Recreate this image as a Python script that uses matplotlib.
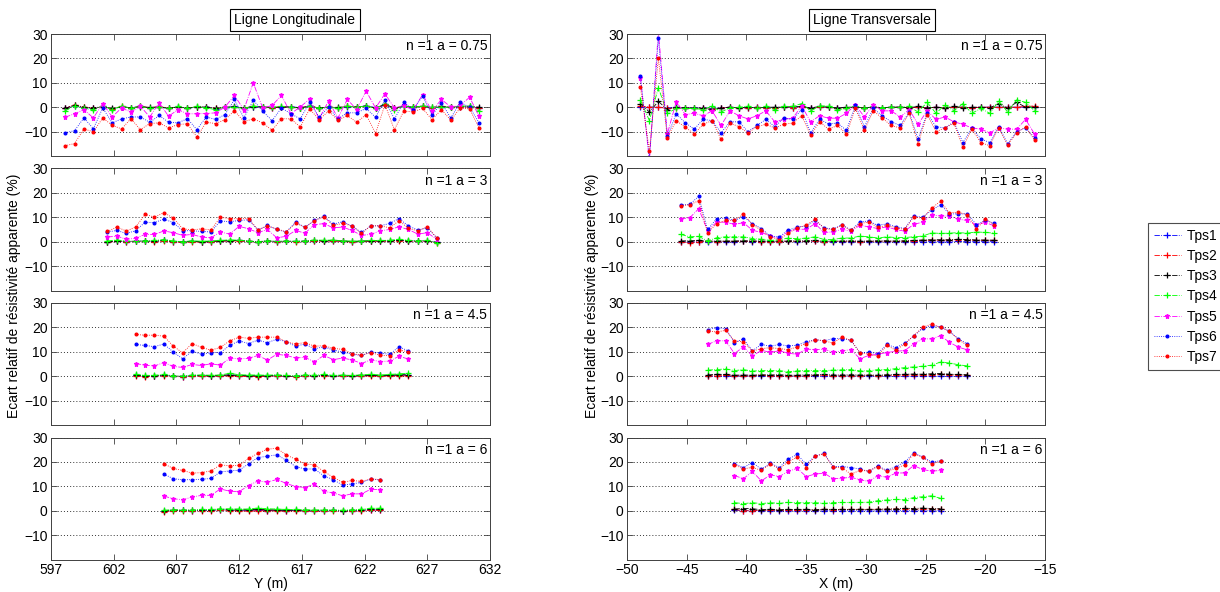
import numpy as np
import matplotlib
matplotlib.use('Agg')
import matplotlib.pyplot as plt

plt.rcParams['font.family'] = ['Liberation Sans', 'DejaVu Sans']

# ---------------- metadata ----------------
series_names = ['Tps1', 'Tps2', 'Tps3', 'Tps4', 'Tps5', 'Tps6', 'Tps7']
panel_labels = ['n =1 a = 0.75', 'n =1 a = 3', 'n =1 a = 4.5', 'n =1 a = 6']
long_start = [598.125, 601.5, 603.75, 606.0]     # first measurement position (Y, m)
trans_start = [-48.875, -45.5, -43.25, -41.0]    # first measurement position (X, m)
step = 0.75
long_ticks = [597, 602, 607, 612, 617, 622, 627, 632]
trans_ticks = [-50, -45, -40, -35, -30, -25, -20, -15]
y_ticks = [-10, 0, 10, 20, 30]

# ---------------- Ligne Longitudinale, a = 0.75 ----------------
L1_T1 = [-0.3, 0.5, -0.2, -0.5, 0.3, -0.8, 0.2, -0.2, 0.3, -0.3, 0.0, -0.4, 0.2, -0.5, 0.0, 0.2, -0.6, 0.0, 0.3, -0.4, 0.2, 0.0, -0.3, 0.1, 0.2, -0.2, 0.4, -0.4, 0.0, -0.3, 0.2, 0.0, 0.6, -0.2, 0.8, -0.5, 0.3, 0.0, 0.4, -0.2, 0.2, 0.0, 0.2, 0.1, -0.3]
L1_T2 = [-0.5, 1.0, 0.0, -0.3, 0.2, -0.6, 0.3, -0.3, 0.3, -0.2, 0.2, -0.3, 0.0, -0.4, 0.2, 0.0, -0.5, 0.1, 0.0, -0.3, 0.3, 0.1, -0.2, 0.2, 0.0, -0.3, 0.5, -0.3, 0.1, -0.2, 0.3, 0.1, 0.3, -0.3, 1.0, -0.4, 0.3, 0.0, 0.3, -0.2, 0.3, 0.0, 0.2, 0.2, -0.5]
L1_T3 = [-0.5, 0.8, 0.0, -0.3, 0.2, -0.5, 0.1, -0.3, 0.2, -0.1, 0.1, -0.4, 0.1, -0.3, 0.1, 0.1, -0.4, 0.0, 0.2, -0.2, 0.2, 0.1, -0.1, 0.1, 0.0, -0.2, 0.3, -0.2, 0.0, -0.1, 0.3, 0.1, 0.5, -0.3, 1.2, -0.3, 0.4, 0.0, 0.3, -0.1, 0.2, 0.1, 0.3, 0.4, 0.0]
L1_T4 = [-1.5, 0.5, -0.5, -1.0, 0.5, -1.0, 0.5, -0.5, 0.3, -0.5, 0.0, -0.5, 0.3, -0.5, 0.3, -0.3, -1.0, 0.0, 0.0, -0.5, 0.5, 0.0, 0.0, 0.3, 0.0, -0.5, 0.3, -0.3, 0.0, -0.5, 0.5, 0.0, 0.5, -0.5, 1.5, -1.0, 0.5, 0.0, 0.5, 0.0, 0.0, 0.0, 0.5, 0.5, -1.5]
L1_T5 = [-4.1, -2.7, -1.0, -4.4, 1.5, -4.0, -0.3, -2.0, 0.4, -4.0, 1.8, -3.7, -1.0, -2.7, -2.7, -2.6, -2.3, 0.1, 4.8, -1.0, 10.0, -0.3, 0.7, 4.8, -2.6, 0.1, 3.4, -4.7, 2.5, -4.4, 3.2, -1.0, 6.6, -0.3, 5.5, -0.3, 0.7, -1.2, 5.2, -1.6, 3.2, 0.1, 0.7, 4.1, -3.7]
L1_T6 = [-10.5, -9.6, -4.4, -8.8, -0.3, -6.4, -4.8, -4.0, -4.0, -6.2, -3.4, -6.2, -6.4, -4.7, -9.2, -4.0, -5.0, -3.0, 3.2, -4.4, 2.9, -1.6, -5.5, -0.3, -2.7, -4.8, 2.0, -4.1, 0.0, -4.8, -2.3, -2.3, -0.5, -4.1, 2.9, -4.8, 2.0, -1.0, 4.5, -3.3, 1.8, -4.4, 2.0, 0.0, -6.4]
L1_T7 = [-15.8, -14.9, -8.9, -10.1, -4.4, -7.4, -8.9, -4.7, -9.2, -6.7, -6.4, -8.5, -7.1, -6.8, -12.2, -6.2, -6.7, -5.1, -1.4, -5.9, -4.8, -6.4, -9.5, -4.7, -4.8, -8.1, -0.7, -5.1, -1.6, -5.3, -3.4, -6.2, -3.0, -10.8, 1.1, -9.2, -1.6, -1.9, -0.5, -5.1, -1.0, -5.3, -0.3, -0.7, -8.5]

# ---------------- Ligne Longitudinale, a = 3 ----------------
L2_T1 = [-0.2, 0.3, 0.0, 0.2, 0.3, 0.1, 0.5, 0.0, -0.2, 0.2, -0.1, 0.0, 0.3, 0.4, 0.5, 0.2, -0.1, 0.3, 0.0, 0.2, 0.1, 0.2, 0.4, 0.3, 0.4, 0.2, 0.0, 0.2, 0.3, 0.3, 0.3, 0.6, 0.3, 0.2, 0.3, -0.3]
L2_T2 = [-0.3, 0.2, 0.0, 0.1, 0.2, -0.2, 0.3, -0.1, -0.3, 0.0, -0.2, 0.0, 0.2, 0.3, 0.3, 0.1, -0.2, 0.2, 0.0, 0.1, 0.0, 0.1, 0.3, 0.2, 0.3, 0.1, -0.1, 0.1, 0.2, 0.2, 0.2, 0.4, 0.1, 0.1, 0.2, -0.4]
L2_T3 = [0.0, 0.3, 0.1, 0.2, 0.3, 0.2, 0.6, 0.1, 0.0, 0.2, 0.0, 0.1, 0.4, 0.4, 0.5, 0.2, 0.0, 0.3, 0.1, 0.2, 0.1, 0.2, 0.5, 0.4, 0.5, 0.3, 0.1, 0.2, 0.4, 0.4, 0.4, 0.7, 0.4, 0.3, 0.4, -0.3]
L2_T4 = [0.3, 0.7, 0.2, 0.3, 0.4, 0.5, 0.9, 0.3, 0.0, 0.4, 0.2, 0.3, 0.5, 0.8, 0.6, 0.3, 0.0, 0.4, 0.2, 0.3, 0.2, 0.3, 0.7, 0.6, 0.7, 0.4, 0.2, 0.3, 0.5, 0.5, 0.6, 1.0, 0.6, 0.4, 0.5, -0.5]
L2_T5 = [1.9, 2.3, 1.0, 1.4, 3.0, 3.0, 4.4, 3.7, 2.6, 3.0, 1.9, 1.6, 4.0, 3.1, 6.3, 5.3, 3.7, 5.0, 1.6, 2.2, 4.6, 3.5, 7.0, 7.4, 5.7, 6.0, 4.6, 2.6, 3.0, 4.5, 5.0, 6.1, 5.0, 3.1, 3.7, 1.0]
L2_T6 = [4.0, 4.6, 3.4, 4.5, 8.0, 7.8, 9.3, 7.8, 4.5, 4.5, 4.2, 4.0, 8.5, 8.2, 8.7, 9.0, 4.8, 6.7, 5.0, 4.0, 8.0, 5.9, 8.7, 10.4, 7.2, 8.2, 6.4, 3.8, 6.5, 6.5, 7.5, 9.5, 6.4, 4.8, 5.7, 1.6]
L2_T7 = [4.2, 6.0, 4.4, 6.0, 11.2, 10.1, 11.9, 9.7, 5.3, 4.8, 5.3, 4.8, 10.0, 9.5, 9.4, 9.5, 4.9, 6.4, 5.3, 4.0, 7.5, 6.0, 8.6, 10.2, 6.7, 7.5, 6.5, 3.4, 6.5, 6.5, 5.7, 8.6, 5.5, 4.4, 6.1, 1.6]

# ---------------- Ligne Longitudinale, a = 4.5 ----------------
L3_T1 = [0.3, 0.0, 0.1, 0.3, 0.0, -0.2, 0.2, 0.2, 0.1, 0.2, 0.5, 0.2, 0.1, 0.0, 0.1, 0.2, 0.0, -0.1, 0.2, 0.1, 0.3, 0.0, 0.2, 0.1, 0.2, 0.3, 0.2, 0.3, 0.4, 0.5]
L3_T2 = [0.1, -0.2, 0.0, 0.2, -0.1, -0.3, 0.1, 0.0, 0.0, 0.1, 0.2, 0.0, -0.1, -0.2, 0.0, 0.1, -0.1, -0.2, 0.0, 0.0, 0.1, -0.1, 0.1, 0.0, 0.1, 0.1, 0.0, 0.1, 0.2, 0.1]
L3_T3 = [0.4, 0.1, 0.2, 0.4, 0.1, 0.0, 0.3, 0.3, 0.2, 0.3, 0.6, 0.3, 0.2, 0.2, 0.2, 0.3, 0.1, 0.0, 0.3, 0.2, 0.4, 0.1, 0.3, 0.2, 0.4, 0.4, 0.3, 0.4, 0.6, 0.6]
L3_T4 = [0.8, 0.3, 0.4, 0.7, 0.2, 0.0, 0.5, 0.5, 0.4, 0.5, 1.2, 0.6, 0.5, 0.5, 0.4, 0.6, 0.3, 0.2, 0.6, 0.4, 0.8, 0.3, 0.5, 0.3, 0.6, 0.8, 0.5, 0.7, 1.0, 1.2]
L3_T5 = [5.2, 4.5, 4.2, 5.6, 4.0, 3.6, 4.8, 4.4, 5.1, 4.5, 7.4, 7.1, 7.3, 8.5, 6.6, 9.0, 8.5, 7.5, 7.7, 5.9, 8.5, 6.8, 7.4, 6.7, 5.2, 6.7, 6.0, 6.2, 8.2, 7.0]
L3_T6 = [13.0, 12.6, 12.1, 13.2, 9.9, 7.1, 10.3, 9.0, 9.7, 9.7, 12.6, 14.5, 13.4, 14.8, 13.7, 15.2, 14.1, 12.3, 13.2, 11.2, 12.1, 10.7, 9.9, 9.0, 8.5, 9.9, 9.6, 8.9, 12.1, 10.3]
L3_T7 = [17.1, 16.8, 16.8, 16.4, 12.3, 9.6, 13.4, 11.8, 10.7, 11.8, 14.5, 16.0, 15.5, 16.0, 16.0, 16.0, 14.1, 13.2, 13.8, 12.3, 12.5, 11.4, 11.0, 9.3, 8.6, 9.7, 8.6, 8.4, 10.7, 10.0]

# ---------------- Ligne Longitudinale, a = 6 ----------------
L4_T1 = [-0.3, 0.1, 0.1, 0.0, 0.2, 0.1, 0.3, 0.2, 0.1, 0.1, 0.3, 0.0, 0.1, 0.0, 0.1, 0.0, -0.1, 0.0, 0.1, -0.2, -0.1, 0.1, 0.3, 0.2]
L4_T2 = [-0.6, 0.0, 0.0, -0.2, 0.0, -0.1, 0.1, 0.0, 0.0, -0.2, 0.0, -0.1, 0.0, -0.2, 0.0, -0.1, -0.3, -0.2, 0.0, -0.3, -0.2, 0.0, 0.2, 0.1]
L4_T3 = [0.0, 0.3, 0.2, 0.2, 0.3, 0.3, 0.5, 0.4, 0.4, 0.4, 0.6, 0.4, 0.3, 0.2, 0.2, 0.2, 0.1, 0.2, 0.2, 0.0, 0.2, 0.3, 0.5, 0.6]
L4_T4 = [0.2, 0.4, 0.3, 0.3, 0.5, 0.5, 0.8, 0.8, 0.7, 0.7, 1.1, 0.8, 0.7, 0.5, 0.5, 0.4, 0.3, 0.4, 0.3, 0.2, 0.4, 0.6, 1.0, 1.0]
L4_T5 = [6.0, 4.9, 4.5, 5.6, 6.3, 6.3, 8.9, 8.0, 7.8, 10.3, 12.2, 11.7, 12.8, 11.2, 9.9, 9.5, 10.9, 7.9, 7.3, 6.1, 6.9, 6.9, 8.8, 8.6]
L4_T6 = [15.0, 13.1, 12.7, 12.7, 12.9, 13.2, 15.9, 16.3, 16.6, 19.2, 21.8, 22.3, 22.9, 20.7, 18.1, 17.1, 17.1, 14.3, 12.7, 10.5, 11.0, 11.6, 12.9, 12.6]
L4_T7 = [19.2, 17.3, 16.5, 15.4, 15.6, 16.3, 18.8, 18.4, 18.6, 21.4, 23.5, 25.2, 25.6, 22.9, 21.1, 19.2, 18.8, 16.1, 13.7, 11.6, 12.4, 12.0, 13.1, 12.7]

# ---------------- Ligne Transversale, a = 0.75 ----------------
T1_T1 = [0.0, 0.0, 0.0, -0.3, 0.0, -0.2, -0.3, -0.2, -0.5, -0.2, 0.0, -0.3, -0.2, 0.0, -0.3, -0.2, 0.0, -0.2, 0.0, -0.3, 0.0, 0.0, -0.3, -0.2, 0.0, -0.2, 0.0, -0.2, 0.0, 0.0, -0.2, 0.0, -0.2, 0.0, -0.3, 0.0, 0.0, -0.2, 0.0, 0.0, 0.0, 0.0, 0.0, 0.0, 0.0]
T1_T2 = [0.5, 0.0, 0.0, -0.5, -0.3, -0.3, -0.5, -0.3, -0.8, -0.3, 0.0, -0.5, -0.3, 0.0, -0.5, -0.3, 0.0, -0.3, 0.0, -0.5, 0.0, 0.0, -0.5, -0.3, 0.0, -0.3, 0.0, -0.3, 0.0, 0.0, -0.3, 0.0, -0.3, 0.0, -0.3, 0.0, 0.0, -0.3, 0.0, 0.0, 0.0, 0.0, 0.0, 0.3, 0.5]
T1_T3 = [1.5, -2.0, 2.4, -1.0, 0.0, -0.2, -0.3, -0.5, -1.0, -0.3, 0.0, -0.2, 0.0, -0.3, 0.0, 0.0, 0.0, 0.3, 0.3, -0.3, 0.3, 0.0, -0.3, 0.0, 0.0, -0.2, 0.0, -0.2, 0.0, 0.0, -0.2, 0.3, -0.3, 0.0, -0.3, 0.3, -0.3, 0.0, 0.0, -0.3, 1.5, -0.5, 2.0, 0.0, 0.0]
T1_T4 = [3.0, -5.5, 8.0, -2.5, -0.5, -0.5, -0.5, -1.0, 0.5, -2.0, -0.2, 0.0, 0.3, -0.5, 0.3, -1.0, 0.3, 0.3, 1.5, -1.5, 0.5, 0.5, -1.0, -0.5, 0.5, -0.5, 0.3, -0.2, 0.0, 0.0, 0.3, -2.0, 2.0, -2.5, 1.0, -1.5, 1.5, -2.5, -0.5, -2.5, 2.5, -2.0, 3.0, 2.0, -1.5]
T1_T5 = [12.0, -22.0, 31.0, -11.0, 2.3, -3.0, -2.5, -3.5, -1.5, -7.5, -1.5, -3.5, -4.8, -3.5, -1.5, -6.0, -5.0, -4.5, 0.5, -6.0, -3.5, -4.5, -4.5, -2.5, 1.0, -4.0, 1.0, -1.5, -1.5, -4.0, -1.0, -7.0, -1.5, -5.0, -4.0, -6.0, -7.0, -8.5, -9.0, -10.5, -8.5, -9.0, -9.0, -5.0, -11.0]
T1_T6 = [12.7, -21.0, 28.2, -12.0, -2.7, -6.4, -9.0, -5.0, -5.5, -10.5, -6.0, -6.0, -10.0, -7.5, -5.0, -8.0, -4.5, -5.0, -1.0, -10.5, -5.0, -6.8, -6.5, -9.5, 0.8, -8.0, -0.5, -3.5, -6.0, -7.5, -2.0, -13.0, -2.5, -8.0, -8.5, -6.0, -14.5, -8.5, -13.0, -14.5, -8.0, -15.0, -10.0, -8.5, -12.5]
T1_T7 = [8.2, -18.0, 20.0, -12.5, -5.5, -8.2, -11.0, -7.0, -5.5, -13.2, -6.5, -8.0, -10.5, -8.0, -7.0, -8.5, -7.0, -6.5, -3.5, -11.5, -6.0, -9.0, -7.5, -11.0, -0.5, -9.5, -1.5, -4.5, -7.5, -8.5, -2.5, -15.0, -3.0, -10.0, -8.5, -6.5, -16.5, -9.0, -14.5, -15.8, -8.5, -15.5, -10.5, -8.0, -13.5]

# ---------------- Ligne Transversale, a = 3 ----------------
T2_T1 = [0.0, -0.2, 0.0, 0.0, 0.0, 0.0, 0.0, 0.1, 0.0, 0.0, 0.0, 0.0, 0.1, 0.0, 0.1, 0.2, 0.0, 0.0, 0.0, 0.0, 0.0, 0.0, 0.0, 0.0, 0.0, 0.0, 0.0, 0.0, 0.0, 0.0, 0.0, 0.1, 0.0, 0.0, 0.0, 0.0]
T2_T2 = [0.0, -0.4, 0.0, 0.1, 0.0, 0.1, 0.1, 0.2, 0.1, 0.0, 0.0, 0.0, 0.2, 0.1, 0.2, 0.3, 0.0, 0.1, 0.1, 0.1, 0.0, 0.1, 0.1, 0.2, 0.1, 0.2, 0.3, 0.5, 0.6, 0.6, 0.7, 0.9, 0.8, 0.5, 0.6, 0.5]
T2_T3 = [0.3, 0.4, 0.5, 0.2, 0.3, 0.3, 0.3, 0.4, 0.3, 0.3, 0.2, 0.2, 0.4, 0.3, 0.4, 0.5, 0.2, 0.3, 0.3, 0.4, 0.2, 0.3, 0.4, 0.4, 0.3, 0.4, 0.5, 0.7, 0.8, 0.8, 0.8, 1.0, 0.9, 0.7, 0.7, 0.6]
T2_T4 = [3.0, 2.0, 2.2, 0.3, 1.6, 2.0, 2.0, 2.0, 1.3, 1.0, 0.5, 0.8, 1.5, 1.2, 1.5, 2.0, 0.9, 0.9, 1.5, 1.5, 2.3, 2.0, 1.5, 2.0, 1.7, 1.7, 2.0, 2.3, 3.6, 3.4, 3.5, 3.7, 3.5, 4.0, 3.8, 3.5]
T2_T5 = [9.4, 9.8, 13.5, 4.5, 8.0, 8.0, 7.1, 7.8, 4.7, 3.8, 2.3, 1.3, 4.3, 5.1, 5.1, 7.4, 3.8, 4.0, 5.1, 4.3, 6.7, 6.1, 5.4, 6.1, 5.0, 4.3, 7.1, 8.0, 11.0, 10.5, 10.5, 9.2, 8.7, 7.0, 7.9, 6.5]
T2_T6 = [15.0, 15.3, 18.6, 5.0, 9.4, 9.7, 8.7, 10.3, 7.4, 5.4, 2.3, 2.0, 4.8, 5.9, 6.5, 8.7, 5.7, 5.1, 7.0, 4.7, 8.1, 8.5, 6.7, 7.3, 6.2, 5.4, 10.4, 10.1, 12.8, 15.2, 11.4, 11.4, 11.4, 7.0, 8.8, 7.5]
T2_T7 = [14.8, 15.1, 16.8, 3.6, 7.4, 8.7, 8.7, 11.4, 7.0, 4.7, 2.0, 0.9, 3.4, 5.7, 6.7, 9.2, 5.4, 5.0, 6.7, 4.6, 7.4, 8.1, 5.9, 6.7, 5.8, 5.0, 10.1, 9.6, 13.7, 16.6, 11.8, 12.1, 11.0, 5.1, 9.3, 7.0]

# ---------------- Ligne Transversale, a = 4.5 ----------------
T3_T1 = [0.0, 0.0, 0.0, 0.0, 0.0, 0.0, 0.1, 0.0, 0.0, 0.0, 0.0, 0.0, 0.1, 0.0, 0.0, 0.0, 0.0, 0.0, 0.0, 0.0, 0.0, 0.0, 0.0, 0.0, 0.0, 0.0, 0.0, 0.0, 0.0, 0.0]
T3_T2 = [0.1, 0.2, 0.3, 0.2, 0.1, 0.1, 0.3, 0.2, 0.2, 0.1, 0.1, 0.2, 0.3, 0.3, 0.1, 0.2, 0.2, 0.2, 0.3, 0.1, 0.3, 0.4, 0.5, 0.6, 0.4, 0.6, 0.7, 0.6, 0.5, 0.4]
T3_T3 = [0.5, 0.8, 0.7, 0.4, 0.5, 0.4, 0.6, 0.5, 0.6, 0.4, 0.4, 0.6, 0.6, 0.7, 0.5, 0.5, 0.6, 0.5, 0.5, 0.4, 0.6, 0.7, 0.8, 0.9, 0.8, 1.0, 1.1, 0.8, 0.7, 0.6]
T3_T4 = [2.5, 2.7, 3.0, 2.3, 2.7, 2.1, 2.3, 2.3, 2.3, 1.8, 2.2, 2.3, 2.3, 2.3, 2.5, 2.6, 2.7, 2.2, 2.2, 2.7, 2.7, 3.1, 3.5, 3.8, 4.1, 4.5, 5.8, 5.4, 4.7, 4.2]
T3_T5 = [13.0, 14.5, 14.5, 9.3, 12.0, 8.3, 10.6, 9.8, 10.4, 9.4, 9.0, 11.1, 10.9, 11.1, 9.8, 10.4, 10.9, 7.2, 8.5, 9.0, 9.7, 10.2, 10.5, 13.2, 15.3, 15.3, 16.6, 13.9, 11.9, 10.8]
T3_T6 = [19.1, 19.9, 19.5, 13.8, 15.3, 10.4, 13.0, 12.3, 13.0, 12.4, 12.7, 14.1, 15.0, 14.5, 15.4, 15.4, 14.7, 9.7, 9.8, 9.3, 13.0, 11.7, 13.5, 16.4, 19.6, 20.7, 20.3, 18.4, 15.3, 13.2]
T3_T7 = [18.6, 18.1, 18.8, 14.5, 14.1, 10.3, 11.3, 11.7, 11.3, 10.9, 12.0, 13.4, 15.0, 14.5, 13.6, 16.0, 14.7, 9.6, 9.0, 8.2, 12.7, 10.6, 13.2, 16.6, 20.0, 21.4, 20.0, 18.4, 15.0, 12.6]

# ---------------- Ligne Transversale, a = 6 ----------------
T4_T1 = [0.3, 0.0, 0.0, 0.0, 0.0, 0.0, 0.0, 0.0, 0.0, 0.0, 0.0, 0.0, 0.0, 0.0, 0.0, 0.0, 0.0, 0.0, 0.0, 0.0, 0.0, 0.0, 0.0, 0.0]
T4_T2 = [0.5, 0.0, 0.0, 0.2, 0.3, 0.2, 0.3, 0.3, 0.4, 0.2, 0.5, 0.4, 0.5, 0.5, 0.5, 0.5, 0.6, 0.6, 0.7, 0.8, 0.7, 0.6, 0.8, 0.6]
T4_T3 = [0.7, 0.9, 0.8, 0.4, 0.6, 0.4, 0.5, 0.5, 0.6, 0.4, 0.6, 0.5, 0.5, 0.5, 0.6, 0.5, 0.6, 0.7, 0.7, 1.0, 0.9, 1.1, 0.9, 0.8]
T4_T4 = [3.3, 2.9, 3.3, 2.9, 3.3, 3.0, 3.4, 3.3, 3.3, 3.3, 3.0, 3.3, 3.4, 3.4, 3.4, 3.5, 4.1, 4.4, 4.6, 4.5, 5.4, 5.7, 6.1, 5.1]
T4_T5 = [14.4, 13.1, 16.1, 12.2, 14.7, 14.0, 16.1, 17.4, 14.0, 15.0, 15.4, 13.1, 13.3, 13.7, 12.7, 12.0, 14.4, 13.7, 15.4, 15.5, 18.5, 16.9, 16.2, 16.5]
T4_T6 = [19.2, 17.7, 19.7, 17.0, 19.5, 17.7, 21.1, 23.1, 19.0, 22.4, 23.5, 18.1, 18.1, 17.7, 17.1, 16.1, 18.4, 16.5, 18.1, 19.9, 23.6, 22.2, 19.9, 20.5]
T4_T7 = [18.9, 17.1, 17.8, 16.5, 19.2, 17.1, 20.1, 21.9, 17.7, 22.4, 23.3, 17.8, 17.6, 15.0, 16.5, 16.3, 18.1, 16.2, 17.3, 18.8, 23.2, 21.9, 19.2, 20.3]

long_panels = [
    [L1_T1, L1_T2, L1_T3, L1_T4, L1_T5, L1_T6, L1_T7],
    [L2_T1, L2_T2, L2_T3, L2_T4, L2_T5, L2_T6, L2_T7],
    [L3_T1, L3_T2, L3_T3, L3_T4, L3_T5, L3_T6, L3_T7],
    [L4_T1, L4_T2, L4_T3, L4_T4, L4_T5, L4_T6, L4_T7],
]
trans_panels = [
    [T1_T1, T1_T2, T1_T3, T1_T4, T1_T5, T1_T6, T1_T7],
    [T2_T1, T2_T2, T2_T3, T2_T4, T2_T5, T2_T6, T2_T7],
    [T3_T1, T3_T2, T3_T3, T3_T4, T3_T5, T3_T6, T3_T7],
    [T4_T1, T4_T2, T4_T3, T4_T4, T4_T5, T4_T6, T4_T7],
]

# ---------------- styles ----------------
colors = [(0, 0, 1), (1, 0, 0), (0, 0, 0), (0, 1, 0), (1, 0, 1), (0, 0, 1), (1, 0, 0)]
lstyles = ['-.', '-.', '-.', '-.', '-.', ':', ':']
markers = ['+', '+', '+', '+', '*', '.', '.']
msizes = [4, 4, 4, 4, 3.6, 4, 4]

W, H = 1220, 592
fig = plt.figure(figsize=(W / 100, H / 100), dpi=100)

left_x0, left_w = 51, 439
right_x0, right_w = 627, 418
row_tops = [34, 168.5, 303, 437.5]
ax_h = 122
edge_col = '0.25'
FS = 10


def make_axes(x0, w, top):
    return fig.add_axes([x0 / W, (H - top - ax_h) / H, w / W, ax_h / H])


def style_axes(ax, xlim, xticks, show_xlabels):
    ax.set_xlim(*xlim)
    ax.set_ylim(-20, 30)
    ax.set_xticks(xticks)
    ax.set_yticks(y_ticks)
    ax.tick_params(direction='in', top=True, right=True, length=4, width=0.6,
                   labelsize=FS, labelcolor='black', color=edge_col, pad=2.5)
    if not show_xlabels:
        ax.set_xticklabels([])
    for sp in ax.spines.values():
        sp.set_color(edge_col)
        sp.set_linewidth(0.7)
    ax.yaxis.grid(True, linestyle=(0, (1, 2.2)), color='0.2', linewidth=0.7)
    ax.set_axisbelow(True)


handles = None
for panels, starts, x0, w, xlim, xticks, xl in [
        (long_panels, long_start, left_x0, left_w, (597, 632), long_ticks, 'Y (m)'),
        (trans_panels, trans_start, right_x0, right_w, (-50, -15), trans_ticks, 'X (m)')]:
    for r in range(4):
        ax = make_axes(x0, w, row_tops[r])
        hs = []
        for s in range(7):
            vals = panels[r][s]
            xs = starts[r] + step * np.arange(len(vals))
            h, = ax.plot(xs, vals, color=colors[s], linestyle=lstyles[s],
                         marker=markers[s], markersize=msizes[s],
                         linewidth=0.6, markeredgewidth=0.9, label=series_names[s])
            hs.append(h)
        if handles is None:
            handles = hs
        style_axes(ax, xlim, xticks, r == 3)
        ax.text(0.994, 0.955, panel_labels[r], transform=ax.transAxes,
                ha='right', va='top', fontsize=FS)
        if r == 3:
            ax.set_xlabel(xl, fontsize=FS, labelpad=0)

# column titles in boxes
box = dict(boxstyle='square,pad=0.3', fc='white', ec='black', lw=0.8)
fig.text(295 / W, 1 - 20 / H, 'Ligne Longitudinale',
         ha='center', va='center', fontsize=FS, bbox=box)
fig.text(872 / W, 1 - 20 / H, 'Ligne Transversale',
         ha='center', va='center', fontsize=FS, bbox=box)

# y labels
ylab = 'Ecart relatif de résistivité apparente (%)'
fig.text(14 / W, 1 - 296 / H, ylab, rotation=90, ha='center', va='center', fontsize=FS)
fig.text(592 / W, 1 - 296 / H, ylab, rotation=90, ha='center', va='center', fontsize=FS)

# legend
leg = fig.legend(handles=handles, labels=series_names, loc='upper left',
                 bbox_to_anchor=(1148 / W, 1 - 223 / H), fontsize=FS,
                 frameon=True, fancybox=False, framealpha=1, edgecolor='0.3',
                 handlelength=2.0, handletextpad=0.4, borderpad=0.4,
                 labelspacing=0.45, borderaxespad=0)
leg.get_frame().set_linewidth(0.8)

fig.savefig('out.png', dpi=100)
